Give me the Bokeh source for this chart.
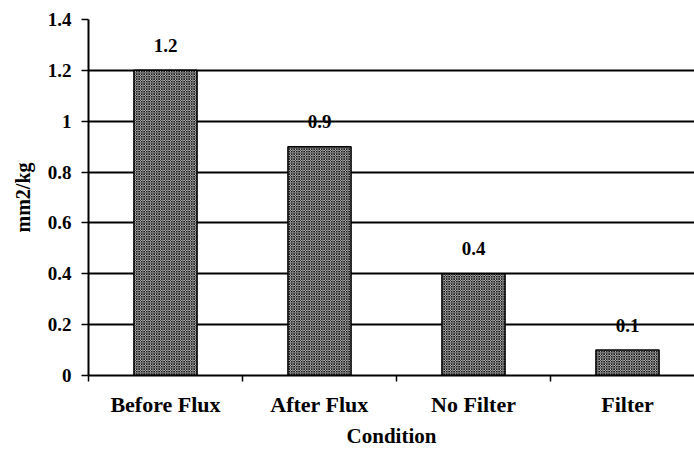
from bokeh.plotting import figure
from bokeh.models import Range1d, FixedTicker, ColumnDataSource
from bokeh.core.properties import value
from bokeh.embed import file_html
from bokeh.resources import INLINE

categories = ["Before Flux", "After Flux", "No Filter", "Filter"]
values = [1.2, 0.9, 0.4, 0.1]
value_labels = ["1.2", "0.9", "0.4", "0.1"]
y_ticks = [0, 0.2, 0.4, 0.6, 0.8, 1.0, 1.2, 1.4]
y_tick_labels = ["0", "0.2", "0.4", "0.6", "0.8", "1", "1.2", "1.4"]

FONT = "Liberation Serif"

xs = [i + 0.5 for i in range(len(categories))]
src = ColumnDataSource(dict(x=xs, top=values, lab=value_labels))

p = figure(width=694, height=450, output_backend="svg", toolbar_location=None,
           x_range=Range1d(0, 3.935), y_range=Range1d(0, 1.4),
           min_border_left=88, min_border_right=0, min_border_top=19, min_border_bottom=75)
p.outline_line_color = None
p.background_fill_color = "white"

p.vbar(x="x", top="top", width=0.41, source=src, fill_color="white",
       hatch_pattern="x", hatch_scale=2.5, hatch_weight=1, hatch_color="#111111",
       line_color="black", line_width=1.5)

p.text(x="x", y="top", text="lab", source=src, text_font=value(FONT),
       text_font_style="bold", text_font_size="19px", text_align="center",
       text_baseline="middle", y_offset=-25, text_color="black")

# x axis
p.xaxis.ticker = FixedTicker(ticks=xs, minor_ticks=list(range(len(categories) + 1)))
p.xaxis.major_label_overrides = {x: c for x, c in zip(xs, categories)}
p.xaxis.major_tick_line_color = None
p.xaxis.major_tick_out = 0
p.xaxis.minor_tick_out = 6
p.xaxis.minor_tick_in = 0
p.xaxis.minor_tick_line_color = "black"
p.xaxis.minor_tick_line_width = 1.5
p.xaxis.axis_line_width = 2
p.xaxis.axis_line_color = "black"
p.xaxis.major_label_standoff = 10
p.xaxis.major_label_text_font = FONT
p.xaxis.major_label_text_font_style = "bold"
p.xaxis.major_label_text_font_size = "22px"
p.xaxis.major_label_text_color = "black"
p.xaxis.axis_label = "Condition"
p.xaxis.axis_label_text_font = FONT
p.xaxis.axis_label_text_font_style = "bold"
p.xaxis.axis_label_text_font_size = "21px"
p.xaxis.axis_label_text_color = "black"
p.xaxis.axis_label_standoff = 4

# y axis
p.yaxis.ticker = FixedTicker(ticks=y_ticks, minor_ticks=[])
p.yaxis.major_label_overrides = {t: l for t, l in zip(y_ticks, y_tick_labels)}
p.yaxis.major_tick_out = 7
p.yaxis.major_tick_in = 0
p.yaxis.major_tick_line_width = 1.5
p.yaxis.major_tick_line_color = "black"
p.yaxis.axis_line_width = 2
p.yaxis.axis_line_color = "black"
p.yaxis.major_label_standoff = 10
p.yaxis.major_label_text_font = FONT
p.yaxis.major_label_text_font_style = "bold"
p.yaxis.major_label_text_font_size = "19px"
p.yaxis.major_label_text_color = "black"
p.yaxis.axis_label = "mm2/kg"
p.yaxis.axis_label_text_font = FONT
p.yaxis.axis_label_text_font_style = "bold"
p.yaxis.axis_label_text_font_size = "20px"
p.yaxis.axis_label_text_color = "black"
p.yaxis.axis_label_standoff = 11

p.xgrid.grid_line_color = None
p.ygrid.ticker = FixedTicker(ticks=y_ticks)
p.ygrid.grid_line_color = "black"
p.ygrid.grid_line_width = 2

open("out.html", "w").write(file_html(p, INLINE))
